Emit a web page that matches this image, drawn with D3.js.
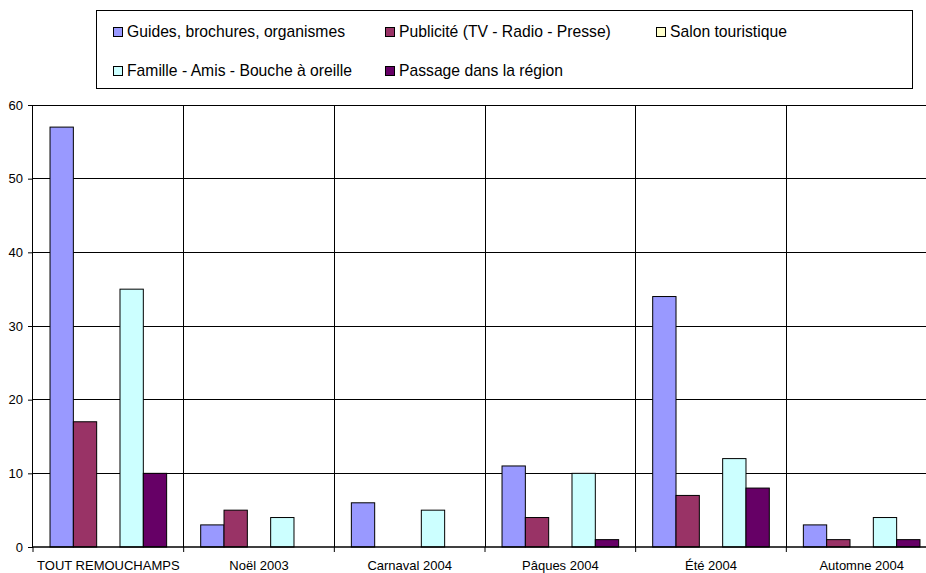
<!DOCTYPE html>
<html>
<head>
<meta charset="utf-8">
<title>Sources</title>
<script src="https://d3js.org/d3.v7.min.js"></script>
<style>
  body { margin: 0; background: #fff; }
  svg { display: block; font-family: "Liberation Sans", Arial, sans-serif; }
  .axis text { font-size: 13px; fill: #000; }
  .axis path, .axis line { stroke: #000; }
</style>
</head>
<body>
<div id="chart"></div>
<script>
// données
const categories = ["TOUT REMOUCHAMPS", "Noël 2003", "Carnaval 2004", "Pâques 2004", "Été 2004", "Automne 2004"];
const seriesNames = ["Guides, brochures, organismes", "Publicité (TV - Radio - Presse)", "Salon touristique",
                     "Famille - Amis - Bouche à oreille", "Passage dans la région"];
const guides   = [57, 3, 6, 11, 34, 3];
const publicite = [17, 5, 0, 4, 7, 1];
const salon    = [0, 0, 0, 0, 0, 0];
const famille  = [35, 4, 5, 10, 12, 4];
const passage  = [10, 0, 0, 1, 8, 1];
const colors = ["#9999FF", "#993366", "#FFFFCC", "#CCFFFF", "#660066"];
const yTicks = [0, 10, 20, 30, 40, 50, 60];

const seriesValues = [guides, publicite, salon, famille, passage];

const W = 926, H = 573;
const margin = {top: 105, left: 33, bottom: 26};
const plotW = 904;              // la zone de tracé dépasse à droite (coupée)
const h = H - margin.top - margin.bottom;

const svg = d3.select("#chart").append("svg")
    .attr("width", W).attr("height", H);

const g = svg.append("g")
    .attr("transform", "translate(" + margin.left + "," + margin.top + ")");

const x0 = d3.scaleBand().domain(categories).range([0, plotW]).paddingInner(0).paddingOuter(0);
const x1 = d3.scaleBand().domain(d3.range(seriesNames.length))
    .range([x0.bandwidth() * 0.113, x0.bandwidth() * 0.887]).padding(0);
const y = d3.scaleLinear().domain([0, 60]).range([h, 0]);

// quadrillage horizontal
g.selectAll(".hgrid").data(yTicks.filter(d => d > 0)).enter()
  .append("line")
  .attr("x1", 0).attr("x2", plotW)
  .attr("y1", d => y(d)).attr("y2", d => y(d))
  .attr("stroke", "#000").attr("stroke-width", 1).attr("shape-rendering", "crispEdges");

// séparateurs verticaux
g.selectAll(".vgrid").data(categories.slice(1)).enter()
  .append("line")
  .attr("x1", d => x0(d)).attr("x2", d => x0(d))
  .attr("y1", 0).attr("y2", h)
  .attr("stroke", "#000").attr("stroke-width", 1).attr("shape-rendering", "crispEdges");

// barres
const groups = g.selectAll(".cat").data(categories).enter()
  .append("g")
  .attr("transform", d => "translate(" + x0(d) + ",0)");

groups.selectAll("rect")
  .data((c, ci) => seriesValues.map((vals, si) => ({s: si, v: vals[ci]})))
  .enter().filter(d => d.v > 0)
  .append("rect")
  .attr("x", d => x1(d.s))
  .attr("width", x1.bandwidth())
  .attr("y", d => y(d.v))
  .attr("height", d => y(0) - y(d.v))
  .attr("fill", d => colors[d.s])
  .attr("stroke", "#000").attr("stroke-width", 1);

// axes
g.append("g").attr("class", "axis")
  .call(d3.axisLeft(y).tickValues(yTicks).tickSize(5).tickPadding(5))
  .call(a => a.select(".domain").attr("d", "M-0.5," + h + "V0"));

const xAxis = g.append("g").attr("class", "axis")
  .attr("transform", "translate(0," + h + ")");
xAxis.append("line").attr("x1", 0).attr("x2", plotW).attr("stroke", "#000").attr("stroke-width", 1.5);
xAxis.selectAll(".tk").data(categories.concat(["_end"])).enter()
  .append("line")
  .attr("x1", (d, i) => i * x0.step()).attr("x2", (d, i) => i * x0.step())
  .attr("y1", 0).attr("y2", 5).attr("stroke", "#000");
xAxis.selectAll("text").data(categories).enter()
  .append("text")
  .attr("x", d => x0(d) + x0.bandwidth() / 2)
  .attr("y", 23)
  .attr("text-anchor", "middle")
  .text(d => d);

// légende
const legend = svg.append("g");
legend.append("rect")
  .attr("x", 96.5).attr("y", 10.5).attr("width", 816).attr("height", 78)
  .attr("fill", "#fff").attr("stroke", "#000");

const legendX = [113, 385, 656];
const legendY = [27, 66];
const items = legend.selectAll(".item").data(seriesNames).enter()
  .append("g")
  .attr("transform", (d, i) => "translate(" + legendX[i % 3] + "," + legendY[Math.floor(i / 3)] + ")");
items.append("rect")
  .attr("x", 0.5).attr("y", 0.5).attr("width", 9).attr("height", 9)
  .attr("fill", (d, i) => colors[i]).attr("stroke", "#000");
items.append("text")
  .attr("x", 14).attr("y", 9.5)
  .attr("font-size", "15.7px")
  .text(d => d);
</script>
</body>
</html>
